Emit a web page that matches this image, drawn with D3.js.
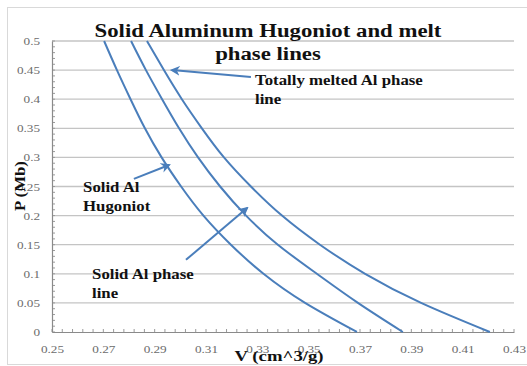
<!DOCTYPE html>
<html>
<head>
<meta charset="utf-8">
<script src="https://cdn.jsdelivr.net/npm/d3@7"></script>
<style>
  body { margin: 0; background: #fff; }
  svg { display: block; }
</style>
</head>
<body>
<div id="root"></div>
<script>
// data
const pressure = [0.5, 0.45, 0.4, 0.35, 0.3, 0.25, 0.2, 0.15, 0.1, 0.05, 0];
const vHugoniot = [0.2703, 0.2753, 0.2806, 0.2862, 0.2927, 0.3003, 0.3090, 0.3197, 0.3324, 0.3486, 0.3688];
const vSolidPhase = [0.2808, 0.2866, 0.2929, 0.2995, 0.3069, 0.3155, 0.3256, 0.3380, 0.3532, 0.3692, 0.3867];
const vMeltedPhase = [0.2870, 0.2936, 0.3006, 0.3084, 0.3170, 0.3275, 0.3396, 0.3544, 0.3720, 0.3938, 0.4206];

const xTicks = [0.25, 0.27, 0.29, 0.31, 0.33, 0.35, 0.37, 0.39, 0.41, 0.43];
const yTicks = [0, 0.05, 0.1, 0.15, 0.2, 0.25, 0.3, 0.35, 0.4, 0.45, 0.5];

const titleLines = ["Solid Aluminum Hugoniot and melt", "phase lines"];

// annotations: label lines, label anchor (V, P) and arrow tail -> head (V, P)
const noteLabels = [
  ["Totally melted Al phase", "line"],
  ["Solid Al", "Hugoniot"],
  ["Solid Al phase", "line"]
];
const noteAnchors = [[0.3291, 0.4244], [0.2621, 0.2405], [0.2656, 0.0919]];
const noteArrows = [
  [[0.3275, 0.438], [0.2967, 0.450]],
  [[0.2819, 0.263], [0.2956, 0.287]],
  [[0.3022, 0.124], [0.3260, 0.213]]
];

function drawChart() {
  const width = 527;
  const height = 366;
  const left = 52, right = 514, top = 41, bottom = 332;
  const blue = "#4a7ebb";
  const stretch = 1.2;

  const x = d3.scaleLinear().domain([0.25, 0.43]).range([left, right]);
  const y = d3.scaleLinear().domain([0, 0.5]).range([bottom, top]);

  const svg = d3.select("#root")
    .append("svg")
    .attr("width", width)
    .attr("height", height)
    .style("font-family", "'Liberation Serif', 'Times New Roman', serif");

  svg.append("rect")
    .attr("x", 7.5).attr("y", 7.5)
    .attr("width", width).attr("height", height - 9)
    .attr("fill", "#fff")
    .attr("stroke", "#d9d9d9");

  // gridlines
  svg.append("g")
    .selectAll("line")
    .data(yTicks.filter(d => d > 0))
    .join("line")
    .attr("x1", left).attr("x2", right)
    .attr("y1", d => y(d)).attr("y2", d => y(d))
    .attr("stroke", "#c4c4c4")
    .attr("stroke-width", 1.3);

  // minor ticks
  const yMinor = d3.range(0, 0.501, 0.01);
  svg.append("g")
    .selectAll("line")
    .data(yMinor)
    .join("line")
    .attr("x1", left).attr("x2", left + 3)
    .attr("y1", d => y(d)).attr("y2", d => y(d))
    .attr("stroke", "#9a9a9a");

  const xMinor = d3.range(0.25, 0.4301, 0.004);
  svg.append("g")
    .selectAll("line")
    .data(xMinor)
    .join("line")
    .attr("x1", d => x(d)).attr("x2", d => x(d))
    .attr("y1", bottom).attr("y2", bottom - 3)
    .attr("stroke", "#9a9a9a");

  // axes
  const xAxis = d3.axisBottom(x)
    .tickValues(xTicks)
    .tickFormat(d3.format(".2f"))
    .tickSize(0)
    .tickPadding(13);
  const yAxis = d3.axisLeft(y)
    .tickValues(yTicks)
    .tickFormat(d => String(+d.toFixed(2)))
    .tickSize(0)
    .tickPadding(10);

  const gx = svg.append("g")
    .attr("transform", `translate(0, ${bottom})`)
    .call(xAxis);
  const gy = svg.append("g")
    .attr("transform", `translate(${left}, 0)`)
    .call(yAxis);

  [gx, gy].forEach(g => {
    g.select(".domain").attr("stroke", "#8a8a8a").attr("stroke-width", 1.2);
    g.selectAll("text")
      .attr("fill", "#6b6b6b")
      .attr("font-size", 11)
      .attr("font-family", "'Liberation Serif', serif")
      .attr("transform", `scale(${stretch},1)`);
  });

  // curves
  const line = d3.line()
    .x(d => x(d[0]))
    .y(d => y(d[1]))
    .curve(d3.curveNatural);

  [vHugoniot, vSolidPhase, vMeltedPhase].forEach(vs => {
    svg.append("path")
      .datum(vs.map((v, i) => [v, pressure[i]]))
      .attr("d", line)
      .attr("fill", "none")
      .attr("stroke", blue)
      .attr("stroke-width", 2);
  });

  // title
  svg.append("g")
    .selectAll("text")
    .data(titleLines)
    .join("text")
    .attr("transform", (d, i) => `translate(268, ${37 + i * 23}) scale(${stretch},1)`)
    .attr("text-anchor", "middle")
    .attr("font-size", 19)
    .attr("font-weight", "bold")
    .attr("fill", "#111")
    .text(d => d);

  // axis titles
  svg.append("text")
    .attr("transform", `translate(25, 186) rotate(-90) scale(${stretch},1)`)
    .attr("text-anchor", "middle")
    .attr("font-size", 14)
    .attr("font-weight", "bold")
    .attr("fill", "#111")
    .text("P (Mb)");

  svg.append("text")
    .attr("transform", `translate(279, 361) scale(1.25,1)`)
    .attr("text-anchor", "middle")
    .attr("font-size", 15)
    .attr("font-weight", "bold")
    .attr("fill", "#111")
    .text("V (cm^3/g)");

  // arrow marker
  svg.append("defs")
    .append("marker")
    .attr("id", "head")
    .attr("viewBox", "0 0 10 10")
    .attr("refX", 8).attr("refY", 5)
    .attr("markerWidth", 5).attr("markerHeight", 5)
    .attr("orient", "auto")
    .append("path")
    .attr("d", "M0,0 L10,5 L0,10 L3,5 Z")
    .attr("fill", blue);

  noteArrows.forEach(a => {
    svg.append("line")
      .attr("x1", x(a[0][0])).attr("y1", y(a[0][1]))
      .attr("x2", x(a[1][0])).attr("y2", y(a[1][1]))
      .attr("stroke", blue)
      .attr("stroke-width", 2)
      .attr("marker-end", "url(#head)");
  });

  noteLabels.forEach((lines, k) => {
    const ax = x(noteAnchors[k][0]);
    const ay = y(noteAnchors[k][1]);
    lines.forEach((t, i) => {
      svg.append("text")
        .attr("transform", `translate(${ax}, ${ay + i * 19}) scale(${stretch},1)`)
        .attr("font-size", 14)
        .attr("font-weight", "bold")
        .attr("fill", "#111")
        .text(t);
    });
  });
}

drawChart();
</script>
</body>
</html>
